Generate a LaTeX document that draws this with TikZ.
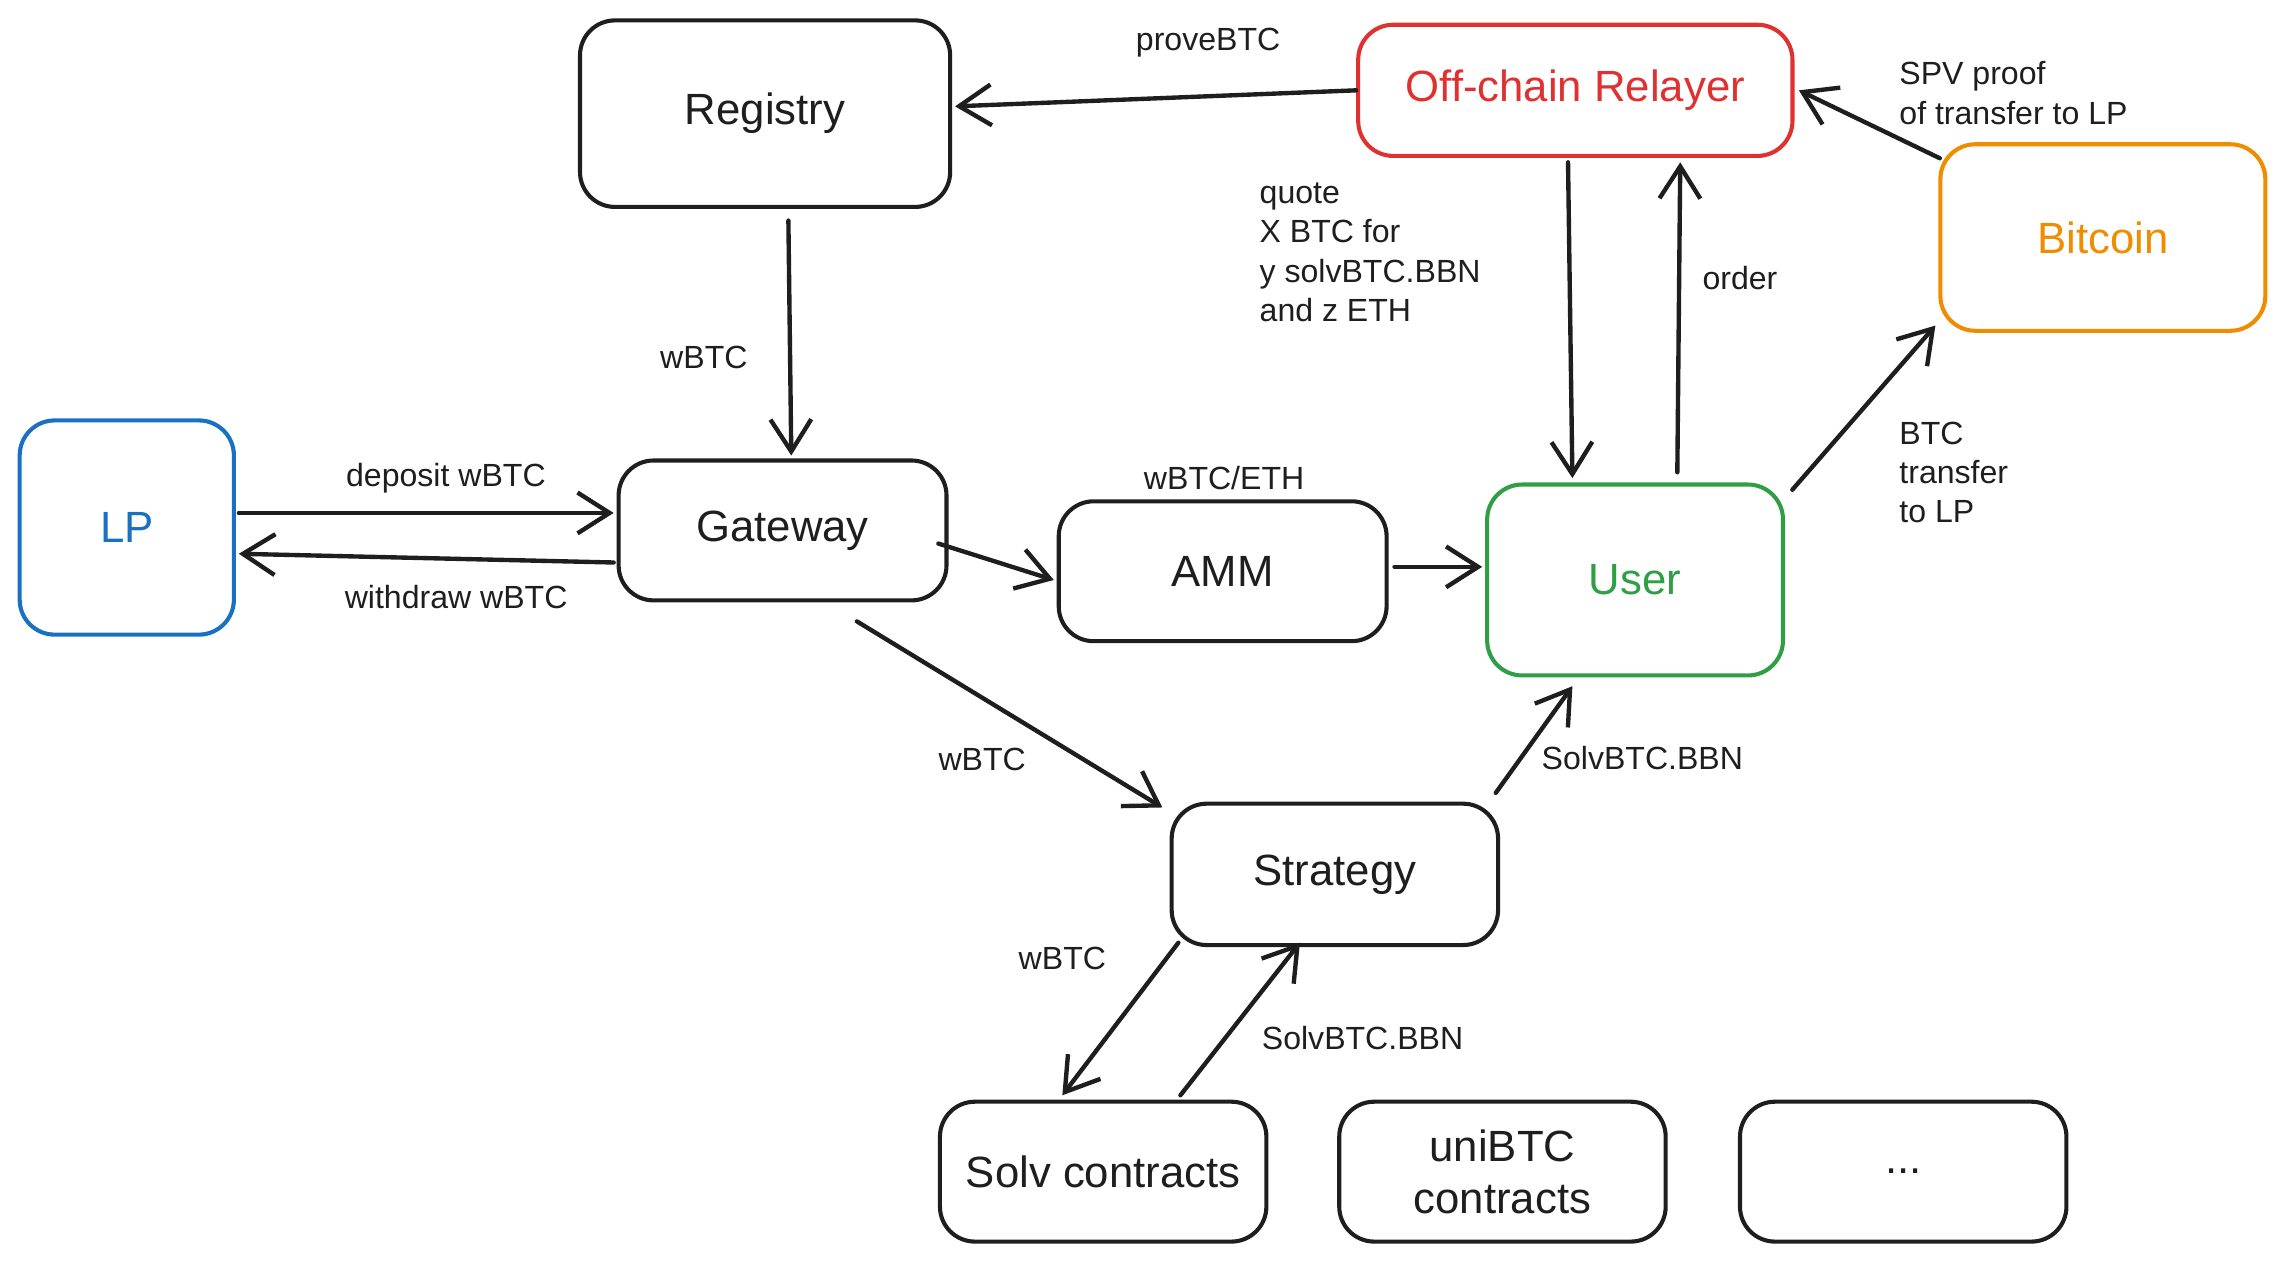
\documentclass[tikz,border=0pt]{standalone}
\usepackage{fontspec}
\setmainfont{Liberation Sans}
\usetikzlibrary{arrows.meta,calc}
\definecolor{exred}{HTML}{E03131}
\definecolor{exorange}{HTML}{F08C00}
\definecolor{exblue}{HTML}{1971C2}
\definecolor{exgreen}{HTML}{2F9E44}
\definecolor{exblack}{HTML}{1E1E1E}
\tikzset{
  box/.style={draw=exblack, line width=1.4pt, rounded corners=12pt, align=center, font=\fontsize{15}{18}\selectfont, text=exblack},
  lbl/.style={font=\fontsize{11}{13.5}\selectfont, text=exblack, inner sep=0pt},
  lblock/.style={lbl, align=left, anchor=north west},
  flow/.style={draw=exblack, line width=1.5pt, line cap=round, -{Straight Barb[length=11pt,width=14pt,line width=1.5pt]}}
}
\begin{document}
\begin{tikzpicture}[x=0.5pt,y=-0.5pt]
\useasboundingbox (0,0) rectangle (1568,865);
% nodes
\node[box, minimum width=127pt, minimum height=64pt] (reg) at (525,78) {Registry};
\node[box, draw=exred, text=exred, minimum width=149pt, minimum height=45pt] (relayer) at (1081,62) {Off-chain Relayer};
\node[box, draw=exorange, text=exorange, minimum width=111.5pt, minimum height=64pt] (btc) at (1443,163) {Bitcoin};
\node[box, draw=exblue, text=exblue, minimum width=73.5pt, minimum height=73.5pt] (lp) at (87,362) {LP};
\node[box, minimum width=112.5pt, minimum height=48pt] (gw) at (537,364) {Gateway};
\node[box, minimum width=112.5pt, minimum height=48pt] (amm) at (839,392) {AMM};
\node[box, draw=exgreen, text=exgreen, minimum width=101.5pt, minimum height=65.5pt] (user) at (1122,398) {User};
\node[box, minimum width=112pt, minimum height=48.5pt] (strat) at (916,600) {Strategy};
\node[box, minimum width=112pt, minimum height=48pt] (solv) at (757,804) {Solv contracts};
\node[box, minimum width=112pt, minimum height=48pt] (uni) at (1031,804) {uniBTC\\contracts};
\node[box, minimum width=112pt, minimum height=48pt] (dots) at (1306,804) {...};
% connectors
\draw[flow] (relayer.west) -- ($(reg.east)+(2,-5)$);
\draw[flow] ($(reg.south)+(16,8)$) -- ($(gw.north)+(6,-2)$);
\draw[flow] ($(lp.east)+(2,-10)$) -- ($(gw.west)+(-2,-12)$);
\draw[flow] ($(gw.west)+(-2,22)$) -- ($(lp.east)+(2,18)$);
\draw[flow] ($(gw.east)+(-7,9)$) -- ($(amm.west)+(-2,6)$);
\draw[flow] ($(amm.east)+(4,-3)$) -- ($(user.west)+(-2,-9)$);
\draw[flow] ($(relayer.south)+(-5,3)$) -- ($(user.north)+(-43,-3)$);
\draw[flow] ($(user.north)+(29,-7)$) -- ($(relayer.south)+(72,3)$);
\draw[flow] ($(user.north east)+(5,5)$) -- ($(btc.south west)+(-2,-5)$);
\draw[flow] ($(btc.north west)+(1,11)$) -- ($(relayer.east)+(3,0)$);
\draw[flow] ($(gw.south)+(51,13)$) -- ($(strat.north west)+(-5,4)$);
\draw[flow] ($(strat.north east)+(-3,-6)$) -- ($(user.south)+(-43,6)$);
\draw[flow] ($(strat.south west)+(6,-3)$) -- ($(solv.north)+(-28,-3)$);
\draw[flow] ($(solv.north)+(53,-3)$) -- ($(strat.south)+(-24,-3)$);
% labels
\node[lbl] (lprove) at (829,29) {proveBTC};
\node[lbl] (lregw) at (483,245) {wBTC};
\node[lbl] (ldep) at (306,328) {deposit wBTC};
\node[lbl] (lwd) at (313,410) {withdraw wBTC};
\node[lbl] (lamm) at (840,328) {wBTC/ETH};
\node[lblock] (lquote) at (864,125) {quote\\X BTC for\\y solvBTC.BBN\\and z ETH};
\node[lbl] (lorder) at (1194,191) {order};
\node[lblock] (lspv) at (1303,42) {SPV proof\\of transfer to LP};
\node[lblock] (lbtct) at (1303,289) {BTC\\transfer\\to LP};
\node[lbl] (lgws) at (674,521) {wBTC};
\node[lbl] (lsu) at (1127,520) {SolvBTC.BBN};
\node[lbl] (lss) at (729,658) {wBTC};
\node[lbl] (lsb) at (935,712) {SolvBTC.BBN};
\end{tikzpicture}
\end{document}
